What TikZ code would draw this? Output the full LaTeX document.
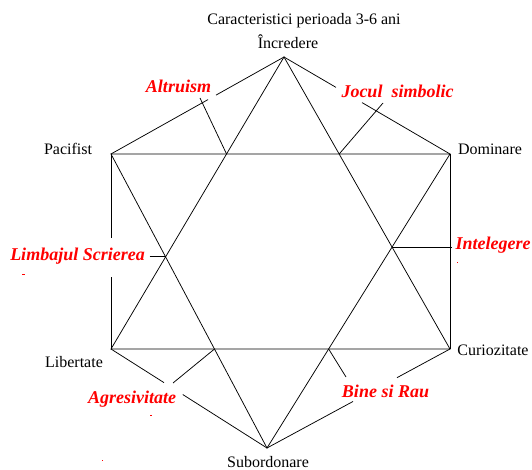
\documentclass[tikz,border=0pt]{standalone}
\usepackage{fontspec}
\setmainfont{Liberation Serif}
\usetikzlibrary{calc,positioning}

\begin{document}
\begin{tikzpicture}[x=1pt, y=-1pt, line width=0.75pt,
    lbl/.style={font=\fontsize{16}{18}\selectfont, anchor=base, inner sep=0pt},
    tema/.style={text=red, font=\fontsize{18}{20}\selectfont\bfseries\itshape, anchor=base, inner sep=0pt}]
    \useasboundingbox (0,0) rectangle (532,470);

    % colturile
    \coordinate (T) at (284,57);
    \coordinate (P) at (111,154);
    \coordinate (D) at (450,154);
    \coordinate (L) at (111,349);
    \coordinate (C) at (450,349);
    \coordinate (B) at (267,448);

    % steaua
    \draw (T) -- (L) -- (C) -- cycle;
    \draw (P) -- (D) -- (B) -- cycle;

    % hexagonul, cu goluri
    \draw (T) -- ($(T)!0.393!(P)$) ($(T)!0.439!(P)$) -- (P);
    \draw (T) -- ($(T)!0.313!(D)$) ($(T)!0.47!(D)$) -- (D);
    \draw (P) -- ($(P)!0.431!(L)$) ($(P)!0.631!(L)$) -- (L);
    \draw (D) -- (C);
    \draw (L) -- ($(L)!0.34!(B)$) ($(L)!0.46!(B)$) -- (B);
    \draw (C) -- ($(C)!0.29!(B)$) ($(C)!0.53!(B)$) -- (B);

    % intersectii
    \coordinate (x1) at (intersection of T--L and P--D);
    \coordinate (x2) at (intersection of T--C and P--D);
    \coordinate (x3) at (intersection of T--L and P--B);
    \coordinate (x4) at (intersection of T--C and D--B);
    \coordinate (x5) at (intersection of L--C and P--B);
    \coordinate (x6) at (intersection of L--C and D--B);

    % capetele liniilor
    \coordinate (e1) at (200,98);
    \coordinate (e2) at (383,103);
    \coordinate (e3) at ($(x3)+(-16,0)$);
    \coordinate (e4) at ($(x4 -| D)+(1.5,0)$);
    \coordinate (e5) at (173,383);
    \coordinate (e6) at (346,377);

    \draw (x1) -- (e1);
    \draw (x2) -- (e2);
    \draw (e3) -- (x3);
    \draw (x4) -- (e4);
    \draw (x5) -- (e5);
    \draw (x6) -- (e6);

    % etichete
    \node[lbl] (titlu) at (304,25) {Caracteristici perioada 3-6 ani};
    \node[lbl] (incredere) at (288,49) {Încredere};
    \node[lbl] (pacifist) at (68,155) {Pacifist};
    \node[lbl] (dominare) at (490,155) {Dominare};
    \node[lbl] (libertate) at (74,367) {Libertate};
    \node[lbl] (curiozitate) at (493,355) {Curiozitate};
    \node[lbl] (subordonare) at (268,467) {Subordonare};

    \node[tema] (altruism) at (178.5,93) {Altruism};
    \node[tema] (joc) at (397.5,98) {Jocul\ \ simbolic};
    \node[tema] (limbaj) at (77.5,260) {Limbajul Scrierea};
    \node[tema] (intelegere) at (493,249) {Intelegere};
    \node[tema] (agresiv) at (132,403) {Agresivitate};
    \node[tema] (bine) at (385.5,397) {Bine si Rau};

    % puncte rosii
    \fill[red] (22,273.5) rectangle ++(3,1);
    \fill[red] (457,261.5) rectangle ++(1,1);
    \fill[red] (150,414.5) rectangle ++(1.5,1);
    \fill[red] (102,459.5) rectangle ++(1,1);
\end{tikzpicture}
\end{document}
